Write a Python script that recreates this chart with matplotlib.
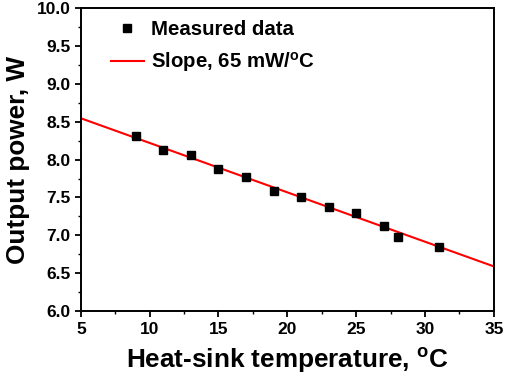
import matplotlib
matplotlib.use('Agg')
import matplotlib.pyplot as plt
from matplotlib.ticker import MultipleLocator
from matplotlib.lines import Line2D

temp_c = [9, 11, 13, 15, 17, 19, 21, 23, 25, 27, 28, 31]
power_w = [8.31, 8.13, 8.06, 7.88, 7.77, 7.59, 7.51, 7.38, 7.29, 7.13, 6.98, 6.85]

# Linear fit endpoints (slope 65 mW/C)
fit_x = [5, 35]
fit_y = [8.545, 6.59]

plt.rcParams['font.family'] = ['Liberation Sans', 'DejaVu Sans']
plt.rcParams['font.weight'] = 'bold'
plt.rcParams['mathtext.fontset'] = 'custom'
plt.rcParams['mathtext.rm'] = 'Liberation Sans:bold'
plt.rcParams['mathtext.bf'] = 'Liberation Sans:bold'

fig = plt.figure(figsize=(5.05, 3.79), dpi=100)
ax = fig.add_axes([0.160, 0.179, 0.818, 0.800])

ax.plot(fit_x, fit_y, color='#ff0000', lw=1.5, zorder=2)
ax.plot(temp_c, power_w, 's', color='black', ms=6.2, zorder=3)

ax.set_xlim(5, 35)
ax.set_ylim(6.0, 10.0)
ax.xaxis.set_major_locator(MultipleLocator(5))
ax.xaxis.set_minor_locator(MultipleLocator(2.5))
ax.yaxis.set_major_locator(MultipleLocator(0.5))
ax.yaxis.set_minor_locator(MultipleLocator(0.25))
ax.yaxis.set_major_formatter(plt.FormatStrFormatter('%.1f'))

for s in ax.spines.values():
    s.set_linewidth(1.4)
ax.tick_params(which='major', direction='out', length=4.5, width=1.3,
               labelsize=12.5, top=False, right=False, pad=3)
ax.tick_params(which='minor', direction='out', length=2.5, width=1.0,
               top=False, right=False)
for lbl in ax.get_xticklabels() + ax.get_yticklabels():
    lbl.set_fontweight('bold')

ax.set_xlabel(r'Heat-sink temperature, $^{\rm o}$C', fontsize=18.8,
              fontweight='bold', labelpad=6)
ax.set_ylabel('Output power, W', fontsize=18.8, fontweight='bold', labelpad=5)

handles = [
    Line2D([], [], marker='s', ls='none', color='black', ms=6.2),
    Line2D([], [], color='#ff0000', lw=1.5),
]
labels = ['Measured data', r'Slope, 65 mW/$^{\rm o}$C']
ax.legend(handles, labels, loc='upper left', bbox_to_anchor=(0.073, 0.96),
          frameon=False, borderpad=0, borderaxespad=0,
          handlelength=1.6, handletextpad=0.35,
          labelspacing=0.55, prop={'weight': 'bold', 'size': 14.7})

fig.savefig('out.png', dpi=100)
